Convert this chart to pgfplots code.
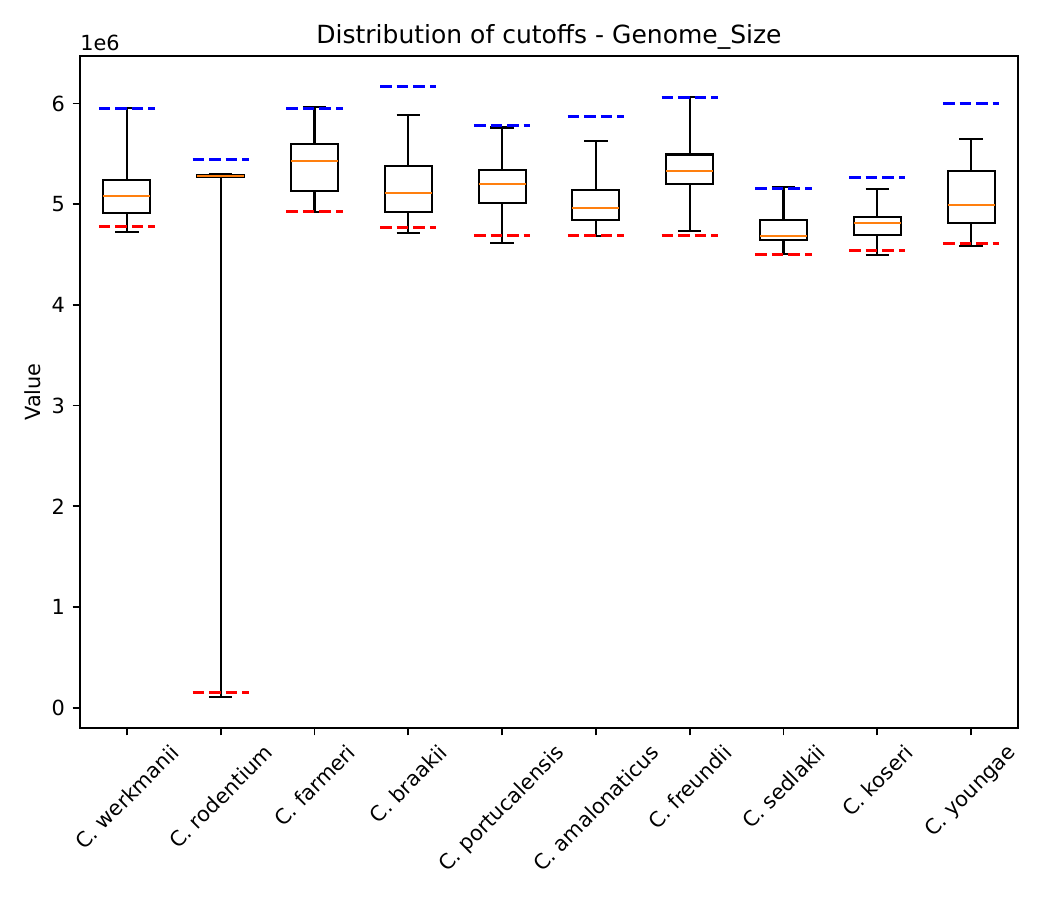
\documentclass[border=0pt]{standalone}
\usepackage{pgfplots}
\pgfplotsset{compat=1.18}
\usepgfplotslibrary{statistics}
\usepackage{graphicx}
\usepackage{fontspec}
\setmainfont{DejaVu Sans}
\definecolor{mplorange}{HTML}{FF7F0E}

\pgfplotsset{
  cutbox/.style={
    black, solid, line width=1pt,
    boxplot/draw direction=y,
    boxplot/every median/.style={draw=mplorange, line width=1pt},
  },
  cutline/.style={
    line width=1.5pt, dash pattern=on 5.55pt off 2.4pt,
    unbounded coords=jump, forget plot,
  },
}

\begin{document}
\begin{tikzpicture}
\fontsize{10}{12}\selectfont
\path[use as bounding box] (0,0) rectangle (504pt,432pt);
\begin{axis}[
  at={(38.4pt,82.56pt)}, anchor=south west,
  scale only axis, width=450.24pt, height=322.56pt,
  xmin=0.5, xmax=10.5, ymin=-0.2015, ymax=6.472,
  xtick={1,...,10},
  xticklabels={
    \rotatebox{45}{C. werkmanii},
    \rotatebox{45}{C. rodentium},
    \rotatebox{45}{C. farmeri},
    \rotatebox{45}{C. braakii},
    \rotatebox{45}{C. portucalensis},
    \rotatebox{45}{C. amalonaticus},
    \rotatebox{45}{C. freundii},
    \rotatebox{45}{C. sedlakii},
    \rotatebox{45}{C. koseri},
    \rotatebox{45}{C. youngae}},
  ytick={0,...,6},
  tick align=outside, xtick pos=bottom, ytick pos=left,
  major tick length=3.5pt,
  every tick/.style={black, line width=0.8pt},
  axis line style={line width=0.8pt, black},
  /pgf/number format/assume math mode=true,
  tick label style={font=\fontsize{10}{12}\selectfont},
  x tick label style={anchor=north, inner sep=0pt, yshift=-3.5pt},
  y tick label style={anchor=east, inner sep=0pt, xshift=-3.5pt},
  title={Distribution of cutoffs - Genome\_Size},
  title style={font=\fontsize{12}{14.4}\selectfont, at={(axis description cs:0.5,1)}, anchor=base, inner sep=0pt},
  ylabel={Value},
  ylabel style={at={(axis description cs:-0.0502,0.5)}, anchor=center, font=\fontsize{10}{12}\selectfont},
  clip=false,
]

% box statistics per species (values in units of 1e6)
\addplot[cutbox, boxplot prepared={draw position=1, lower whisker=4.724, lower quartile=4.912, median=5.081, upper quartile=5.240, upper whisker=5.954, box extend=0.5, whisker extend=0.25}] coordinates {};
\addplot[cutbox, boxplot prepared={draw position=2, lower whisker=0.102, lower quartile=5.266, median=5.276, upper quartile=5.286, upper whisker=5.299, box extend=0.5, whisker extend=0.25}] coordinates {};
\addplot[cutbox, boxplot prepared={draw position=3, lower whisker=4.922, lower quartile=5.131, median=5.428, upper quartile=5.597, upper whisker=5.964, box extend=0.5, whisker extend=0.25}] coordinates {};
\addplot[cutbox, boxplot prepared={draw position=4, lower whisker=4.714, lower quartile=4.919, median=5.108, upper quartile=5.375, upper whisker=5.884, box extend=0.5, whisker extend=0.25}] coordinates {};
\addplot[cutbox, boxplot prepared={draw position=5, lower whisker=4.615, lower quartile=5.008, median=5.200, upper quartile=5.339, upper whisker=5.762, box extend=0.5, whisker extend=0.25}] coordinates {};
\addplot[cutbox, boxplot prepared={draw position=6, lower whisker=4.684, lower quartile=4.843, median=4.962, upper quartile=5.137, upper whisker=5.627, box extend=0.5, whisker extend=0.25}] coordinates {};
\addplot[cutbox, boxplot prepared={draw position=7, lower whisker=4.734, lower quartile=5.197, median=5.329, upper quartile=5.494, upper whisker=6.063, box extend=0.5, whisker extend=0.25}] coordinates {};
\addplot[cutbox, boxplot prepared={draw position=8, lower whisker=4.506, lower quartile=4.641, median=4.684, upper quartile=4.840, upper whisker=5.170, box extend=0.5, whisker extend=0.25}] coordinates {};
\addplot[cutbox, boxplot prepared={draw position=9, lower whisker=4.496, lower quartile=4.694, median=4.810, upper quartile=4.873, upper whisker=5.150, box extend=0.5, whisker extend=0.25}] coordinates {};
\addplot[cutbox, boxplot prepared={draw position=10, lower whisker=4.585, lower quartile=4.813, median=4.989, upper quartile=5.329, upper whisker=5.646, box extend=0.5, whisker extend=0.25}] coordinates {};

% upper cutoffs
\addplot[cutline, color=blue] coordinates {
  (0.7,5.948) (1.3,5.948) (1.5,nan)
  (1.7,5.441) (2.3,5.441) (2.5,nan)
  (2.7,5.948) (3.3,5.948) (3.5,nan)
  (3.7,6.169) (4.3,6.169) (4.5,nan)
  (4.7,5.779) (5.3,5.779) (5.5,nan)
  (5.7,5.868) (6.3,5.868) (6.5,nan)
  (6.7,6.057) (7.3,6.057) (7.5,nan)
  (7.7,5.157) (8.3,5.157) (8.5,nan)
  (8.7,5.263) (9.3,5.263) (9.5,nan)
  (9.7,6.000) (10.3,6.000)
};
% lower cutoffs
\addplot[cutline, color=red] coordinates {
  (0.7,4.780) (1.3,4.780) (1.5,nan)
  (1.7,0.155) (2.3,0.155) (2.5,nan)
  (2.7,4.926) (3.3,4.926) (3.5,nan)
  (3.7,4.767) (4.3,4.767) (4.5,nan)
  (4.7,4.691) (5.3,4.691) (5.5,nan)
  (5.7,4.691) (6.3,4.691) (6.5,nan)
  (6.7,4.691) (7.3,4.691) (7.5,nan)
  (7.7,4.500) (8.3,4.500) (8.5,nan)
  (8.7,4.539) (9.3,4.539) (9.5,nan)
  (9.7,4.612) (10.3,4.612)
};

% scale factor of the value axis
\node[anchor=south west, inner sep=0pt, yshift=2.4pt] at (rel axis cs:0,1) {1e6};
\end{axis}
\end{tikzpicture}
\end{document}
